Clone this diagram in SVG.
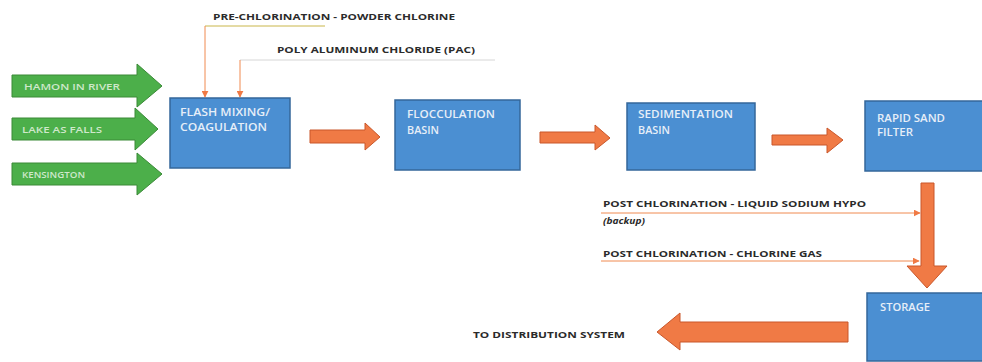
<svg xmlns="http://www.w3.org/2000/svg" width="982" height="362" viewBox="0 0 982 362">
<defs>
<style>
.box{fill:#4b8fd2;stroke:#35679a;stroke-width:1.5}
.btxt{font-family:"Open Sans","Liberation Sans",sans-serif;font-size:10.5px;font-weight:600;fill:#e6eef8}
.gar{fill:#4caf4a;stroke:#3a8a37;stroke-width:1}
.gtxt{font-family:"Open Sans","Liberation Sans",sans-serif;font-size:9.5px;font-weight:600;fill:#cfe8cb}
.oar{fill:#f07a45;stroke:#c9572b;stroke-width:1}
.lbl{font-family:"Open Sans","Liberation Sans",sans-serif;font-size:9.5px;font-weight:700;fill:#2b2b2b}
.feed{fill:none;stroke:#f08a50;stroke-width:1}
</style>
<marker id="ah" viewBox="0 0 10 10" refX="9" refY="5" markerWidth="7" markerHeight="7" orient="auto" markerUnits="userSpaceOnUse">
<path d="M0,0 L10,5 L0,10 z" fill="#f07a45"/>
</marker>
</defs>
<rect width="982" height="362" fill="#ffffff"/>

<g id="connectors">
<line x1="205" y1="26" x2="325" y2="26" stroke="#c9b64a" stroke-width="1"/>
<path class="feed" d="M205,26 V97" marker-end="url(#ah)"/>
<line x1="240" y1="60" x2="495" y2="60" stroke="#d6d6d6" stroke-width="1"/>
<path class="feed" d="M240,60 V97" marker-end="url(#ah)"/>
<path class="feed" d="M601,213 H920" marker-end="url(#ah)"/>
<path class="feed" d="M601,261 H919" marker-end="url(#ah)"/>
<path class="gar" d="M12,75 H137 V64 L162,86 L137,107 V97 H12 Z"/>
<path class="gar" d="M12,118 H135 V108 L158,129 L135,150 V140 H12 Z"/>
<path class="gar" d="M12,163 H137 V153 L162,174 L137,195 V185 H12 Z"/>
<path class="oar" d="M310,130 H365 V123 L380,137 L365,150 V143 H310 Z"/>
<path class="oar" d="M540,132 H595 V125 L610,138 L595,150 V143 H540 Z"/>
<path class="oar" d="M772,135 H827 V128 L843,140 L827,153 V145 H772 Z"/>
<path class="oar" d="M921,183 H934 V266 L947,266 L927,288 L907,266 L921,266 Z"/>
<path class="oar" d="M848,322 H680 V313 L657,332 L680,350 V342 H848 Z"/>
</g>

<g id="n-hamon"><text class="gtxt" x="24" y="90" textLength="96" lengthAdjust="spacingAndGlyphs">HAMON IN RIVER</text></g>
<g id="n-lake"><text class="gtxt" x="22" y="133" textLength="80" lengthAdjust="spacingAndGlyphs">LAKE AS FALLS</text></g>
<g id="n-kensington"><text class="gtxt" x="22" y="178" textLength="63" lengthAdjust="spacingAndGlyphs">KENSINGTON</text></g>

<g id="n-flash">
<rect class="box" x="170" y="98" width="120" height="70"/>
<text class="btxt" x="180" y="116" textLength="90" lengthAdjust="spacingAndGlyphs">FLASH MIXING/</text>
<text class="btxt" x="180" y="131" textLength="87" lengthAdjust="spacingAndGlyphs">COAGULATION</text>
</g>
<g id="n-floc">
<rect class="box" x="395" y="100" width="125" height="70"/>
<text class="btxt" x="407" y="118" textLength="88" lengthAdjust="spacingAndGlyphs">FLOCCULATION</text>
<text class="btxt" x="407" y="134" textLength="32" lengthAdjust="spacingAndGlyphs">BASIN</text>
</g>
<g id="n-sed">
<rect class="box" x="627" y="103" width="128" height="67"/>
<text class="btxt" x="638" y="118" textLength="95" lengthAdjust="spacingAndGlyphs">SEDIMENTATION</text>
<text class="btxt" x="638" y="134" textLength="32" lengthAdjust="spacingAndGlyphs">BASIN</text>
</g>
<g id="n-filter">
<rect class="box" x="865" y="101" width="125" height="70"/>
<text class="btxt" x="877" y="122" textLength="68" lengthAdjust="spacingAndGlyphs">RAPID SAND</text>
<text class="btxt" x="877" y="136" textLength="36" lengthAdjust="spacingAndGlyphs">FILTER</text>
</g>
<g id="n-storage">
<rect class="box" x="867" y="293" width="125" height="68"/>
<text class="btxt" x="880" y="311" textLength="50" lengthAdjust="spacingAndGlyphs">STORAGE</text>
</g>

<g id="labels">
<text class="lbl" x="213" y="20" textLength="242" lengthAdjust="spacingAndGlyphs">PRE-CHLORINATION - POWDER CHLORINE</text>
<text class="lbl" x="277" y="53" textLength="198" lengthAdjust="spacingAndGlyphs">POLY ALUMINUM CHLORIDE (PAC)</text>
<text class="lbl" x="603" y="207" textLength="263" lengthAdjust="spacingAndGlyphs">POST CHLORINATION - LIQUID SODIUM HYPO</text>
<text class="lbl" x="603" y="224" font-style="italic" textLength="42" lengthAdjust="spacingAndGlyphs">(backup)</text>
<text class="lbl" x="603" y="257" textLength="219" lengthAdjust="spacingAndGlyphs">POST CHLORINATION - CHLORINE GAS</text>
<text class="lbl" x="473" y="338" textLength="152" lengthAdjust="spacingAndGlyphs">TO DISTRIBUTION SYSTEM</text>
</g>
</svg>
